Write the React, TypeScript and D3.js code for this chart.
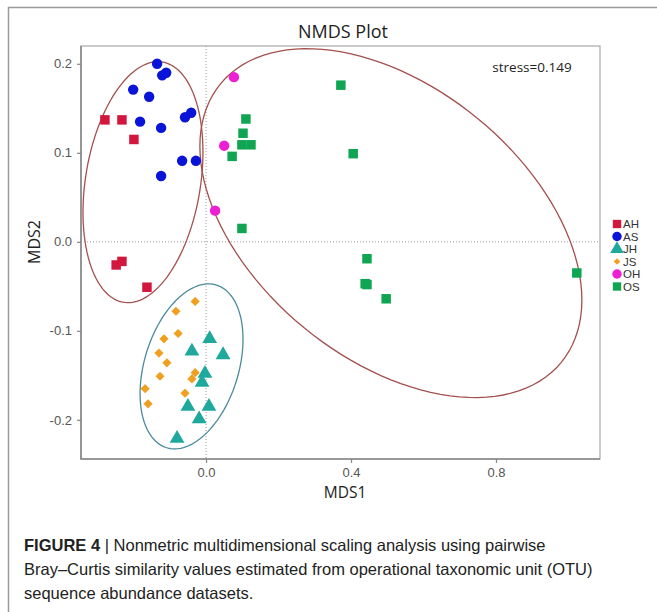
import React, { useEffect, useRef } from "react";
import { axisBottom, axisLeft, curveLinearClosed, line, range, scaleLinear, select, symbol, symbolCircle, symbolSquare, symbolTriangle } from "d3";

// group names, colours, shapes
const groups = ["AH", "AS", "JH", "JS", "OH", "OS"];
const colors = ["#d3163d", "#0a14d8", "#1fa89c", "#f0a020", "#ec1fd2", "#10a552"];
// JS uses a square turned 45 degrees (diamond)
const shapes = [symbolSquare, symbolCircle, symbolTriangle, symbolSquare, symbolCircle, symbolSquare];

// points, [MDS1, MDS2]
const AH = [[-0.279, 0.137], [-0.232, 0.137], [-0.199, 0.115], [-0.248, -0.026], [-0.232, -0.022], [-0.163, -0.051]];
const AS = [
  [-0.135, 0.2], [-0.121, 0.187], [-0.11, 0.19], [-0.201, 0.171], [-0.157, 0.163], [-0.182, 0.135],
  [-0.124, 0.128], [-0.058, 0.14], [-0.041, 0.145], [-0.066, 0.091], [-0.028, 0.091], [-0.124, 0.074],
];
const JH = [[0.01, -0.109], [-0.039, -0.123], [0.047, -0.127], [-0.003, -0.148], [-0.011, -0.158], [-0.05, -0.185], [0.008, -0.185], [-0.019, -0.199], [-0.08, -0.221]];
const JS = [
  [-0.03, -0.067], [-0.083, -0.078], [-0.077, -0.103], [-0.116, -0.109], [-0.13, -0.125], [-0.108, -0.136],
  [-0.127, -0.151], [-0.03, -0.147], [-0.039, -0.154], [-0.168, -0.165], [-0.058, -0.17], [-0.16, -0.182],
];
const OH = [[0.077, 0.185], [0.05, 0.108], [0.025, 0.035]];
const OS = [
  [0.372, 0.176], [0.406, 0.099], [0.11, 0.138], [0.102, 0.122], [0.099, 0.109], [0.124, 0.109], [0.072, 0.096],
  [0.099, 0.015], [0.444, -0.019], [0.439, -0.047], [0.444, -0.048], [0.497, -0.064], [1.023, -0.035],
];
const series = [AH, AS, JH, JS, OH, OS];

// ellipses: centre, half extents and correlation in data units
const ellipses = [
  { cx: -0.174, cy: 0.067, sx: 0.1655, sy: 0.1354, r: 0.25, color: "#a3504e" },
  { cx: 0.51, cy: 0.021, sx: 0.527, sy: 0.196, r: -0.44, color: "#a3504e" },
  { cx: -0.04, cy: -0.14, sx: 0.142, sy: 0.0927, r: 0.33, color: "#4b8a9c" },
];

const xTicks = [0, 0.4, 0.8];
const yTicks = [-0.2, -0.1, 0, 0.1, 0.2];

const W = 657;
const H = 612;
const left = 81, right = 600, top = 46, bottom = 459;

const x = scaleLinear().domain([-0.345, 1.087]).range([left, right]);
const y = scaleLinear().domain([-0.244, 0.22]).range([bottom, top]);

const symSize = [90, 85, 95, 42, 85, 90];
const legSize = [70, 70, 80, 22, 70, 70];

const App = () => {
  const xRef = useRef<SVGGElement | null>(null);
  const yRef = useRef<SVGGElement | null>(null);

  useEffect(() => {
    const fmt = (d: any) => (+d).toFixed(1);
    const gx = select(xRef.current);
    gx.selectAll("*").remove();
    gx.call(axisBottom(x).tickValues(xTicks).tickSize(4).tickPadding(5).tickFormat(fmt));
    const gy = select(yRef.current);
    gy.selectAll("*").remove();
    gy.call(axisLeft(y).tickValues(yTicks).tickSize(4).tickPadding(5).tickFormat(fmt));
    [gx, gy].forEach((g) => {
      g.select(".domain").remove();
      g.selectAll(".tick line").attr("stroke", "#888").attr("stroke-width", 1.2);
      g.selectAll(".tick text")
        .attr("fill", "#555")
        .style("font-family", "'Liberation Sans', Arial, sans-serif")
        .style("font-size", "13px");
    });
  }, []);

  const ellipsePath = (e: any) => {
    const ts = range(0, 120).map((i) => (i / 120) * Math.PI * 2);
    const pts = ts.map((t) => [
      e.cx + e.sx * Math.cos(t),
      e.cy + e.sy * (e.r * Math.cos(t) + Math.sqrt(1 - e.r * e.r) * Math.sin(t)),
    ]);
    return line<number[]>()
      .x((d) => x(d[0]))
      .y((d) => y(d[1]))
      .curve(curveLinearClosed)(pts) as string;
  };

  return (
    <svg width={W} height={H} style={{ position: "absolute", left: 0, top: 0, background: "#fff" }}>
      {/* outer frame */}
      <path d={`M8.5,${H} V7.5 H${W}`} fill="none" stroke="#9a9a9a" strokeWidth={1.5} />

      <text x={343} y={38} textAnchor="middle" fontFamily="'Open Sans', sans-serif" fontSize={18} fill="#222">
        NMDS Plot
      </text>

      {/* zero lines */}
      <line x1={x(0)} x2={x(0)} y1={top} y2={bottom} stroke="#999" strokeWidth={1} strokeDasharray="1,2" />
      <line x1={left} x2={right} y1={y(0)} y2={y(0)} stroke="#999" strokeWidth={1} strokeDasharray="1,2" />

      {/* plot box */}
      <rect x={left} y={top} width={right - left} height={bottom - top} fill="none" stroke="#a8a8a8" strokeWidth={1.2} />
      <path d={`M${left},${top} V${bottom} H${right}`} fill="none" stroke="#888" strokeWidth={1.6} />

      <g ref={xRef} transform={`translate(0,${bottom})`} />
      <g ref={yRef} transform={`translate(${left},0)`} />

      {ellipses.map((e, i) => (
        <path key={i} d={ellipsePath(e)} fill="none" stroke={e.color} strokeWidth={1.3} />
      ))}

      {series.map((pts, gi) =>
        pts.map((p, i) => (
          <path
            key={gi + "-" + i}
            transform={`translate(${x(p[0])},${y(p[1])})${gi === 3 ? " rotate(45)" : ""}`}
            d={symbol(shapes[gi], symSize[gi])() as string}
            fill={colors[gi]}
          />
        ))
      )}

      <text x={532} y={72} textAnchor="middle" fontFamily="'Open Sans', sans-serif" fontSize={13.5} fill="#222">
        stress=0.149
      </text>

      {/* legend */}
      {groups.map((g, i) => (
        <g key={g} transform={`translate(617,${224 + i * 12.5})`}>
          <path
            d={symbol(shapes[i], legSize[i])() as string}
            fill={colors[i]}
            transform={i === 3 ? "rotate(45)" : undefined}
          />
          <text x={6} y={4.2} fontFamily="'Liberation Sans', Arial, sans-serif" fontSize={11.5} fill="#333">
            {g}
          </text>
        </g>
      ))}

      <text x={345} y={498} textAnchor="middle" fontFamily="'Open Sans', sans-serif" fontSize={15.5} fill="#222">
        MDS1
      </text>
      <text
        transform="translate(40,242) rotate(-90)"
        textAnchor="middle"
        fontFamily="'Open Sans', sans-serif"
        fontSize={16}
        fill="#222"
      >
        MDS2
      </text>

      {/* caption */}
      <g fontFamily="'Liberation Sans', Arial, sans-serif" fontSize={16.5} fill="#222">
        <text x={24} y={551}>
          <tspan fontWeight="bold">FIGURE 4</tspan>
          <tspan> | Nonmetric multidimensional scaling analysis using pairwise</tspan>
        </text>
        <text x={24} y={575}>Bray–Curtis similarity values estimated from operational taxonomic unit (OTU)</text>
        <text x={24} y={599}>sequence abundance datasets.</text>
      </g>
    </svg>
  );
};

export default App;
